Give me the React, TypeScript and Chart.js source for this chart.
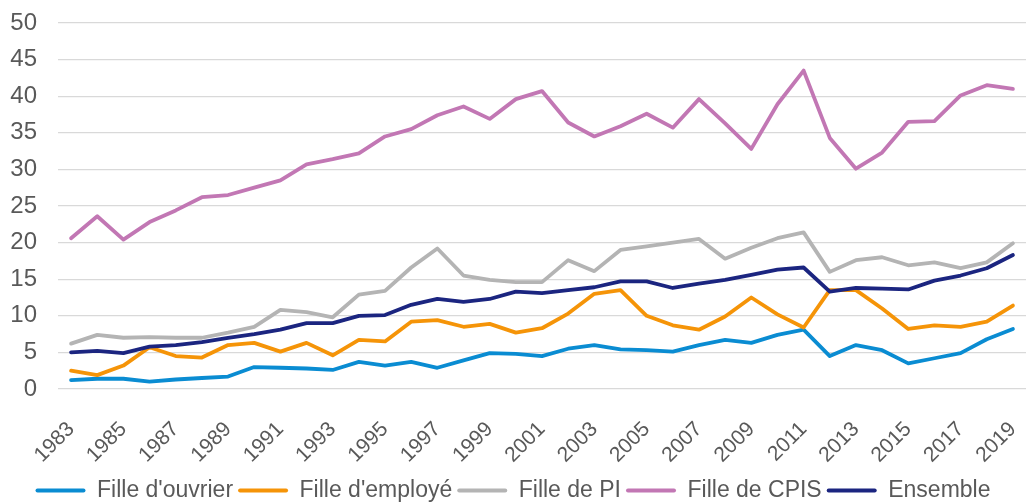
import React, { useEffect, useRef } from "react";
import { Chart, registerables } from "chart.js";

Chart.register(...registerables);

const years = [
  "1983","1984","1985","1986","1987","1988","1989","1990","1991","1992",
  "1993","1994","1995","1996","1997","1998","1999","2000","2001","2002",
  "2003","2004","2005","2006","2007","2008","2009","2010","2011","2012",
  "2013","2014","2015","2016","2017","2018","2019",
];

const filleOuvrier = [
  1.2, 1.4, 1.4, 1.0, 1.3, 1.5, 1.7, 3.0, 2.9, 2.8,
  2.6, 3.7, 3.2, 3.7, 2.9, 3.9, 4.9, 4.8, 4.5, 5.5,
  6.0, 5.4, 5.3, 5.1, 6.0, 6.7, 6.3, 7.4, 8.1, 4.5,
  6.0, 5.3, 3.5, 4.2, 4.9, 6.8, 8.2,
];

const filleEmploye = [
  2.5, 1.9, 3.2, 5.7, 4.5, 4.3, 6.0, 6.3, 5.1, 6.3,
  4.6, 6.7, 6.5, 9.2, 9.4, 8.5, 8.9, 7.7, 8.3, 10.3,
  13.0, 13.5, 10.0, 8.7, 8.1, 9.9, 12.5, 10.2, 8.4, 13.5,
  13.5, 11.0, 8.2, 8.7, 8.5, 9.2, 11.4,
];

const filleDePI = [
  6.2, 7.4, 7.0, 7.1, 7.0, 7.0, 7.7, 8.5, 10.8, 10.5,
  9.8, 12.9, 13.4, 16.6, 19.2, 15.5, 14.9, 14.6, 14.6, 17.6,
  16.1, 19.0, 19.5, 20.0, 20.5, 17.8, 19.3, 20.6, 21.4, 16.0,
  17.6, 18.0, 16.9, 17.3, 16.5, 17.3, 19.9,
];

const filleDeCPIS = [
  20.6, 23.6, 20.4, 22.8, 24.4, 26.2, 26.5, 27.5, 28.5, 30.7,
  31.4, 32.2, 34.5, 35.5, 37.4, 38.6, 36.9, 39.6, 40.7, 36.4,
  34.5, 35.9, 37.6, 35.7, 39.6, 36.3, 32.8, 38.9, 43.5, 34.3,
  30.1, 32.3, 36.5, 36.6, 40.1, 41.5, 41.0,
];

const ensemble = [
  5.0, 5.2, 4.9, 5.8, 6.0, 6.4, 7.0, 7.5, 8.1, 9.0,
  9.0, 10.0, 10.1, 11.5, 12.3, 11.9, 12.3, 13.3, 13.1, 13.5,
  13.9, 14.7, 14.7, 13.8, 14.4, 14.9, 15.6, 16.3, 16.6, 13.3,
  13.8, 13.7, 13.6, 14.8, 15.5, 16.5, 18.3,
];

const seriesNames = ["Fille d'ouvrier", "Fille d'employé", "Fille de PI", "Fille de CPIS", "Ensemble"];
const seriesColors = ["#0A8CD2", "#F59408", "#B4B4B4", "#C277B4", "#1B2580"];

const FONT = "'Liberation Sans', Arial, sans-serif";
const TEXT = "#595959";

export default function App() {
  const ref = useRef<HTMLCanvasElement | null>(null);

  useEffect(() => {
    if (!ref.current) return;
    const values = [filleOuvrier, filleEmploye, filleDePI, filleDeCPIS, ensemble];
    const chart = new Chart(ref.current, {
      type: "line",
      data: {
        labels: years,
        datasets: values.map((v, i) => ({
          label: seriesNames[i],
          data: v,
          borderColor: seriesColors[i],
          backgroundColor: seriesColors[i],
          borderWidth: 3.8,
          pointRadius: 0,
          pointHoverRadius: 0,
          tension: 0,
          borderJoinStyle: "round" as const,
          borderCapStyle: "round" as const,
          order: values.length - i,
        })),
      },
      options: {
        responsive: false,
        animation: false,
        layout: { padding: { top: 23, right: 0, bottom: 0, left: 0 } },
        plugins: {
          tooltip: { enabled: false },
          legend: {
            position: "bottom",
            labels: {
              color: TEXT,
              font: { family: FONT, size: 23 },
              boxWidth: 50,
              boxHeight: 4,
              padding: 5,
              sort: (a: any, b: any) => a.datasetIndex - b.datasetIndex,
              generateLabels: (c: any) =>
                Chart.defaults.plugins.legend.labels
                  .generateLabels(c)
                  .map((l: any) => ({ ...l, lineWidth: 0, borderRadius: 2 })),
            },
          },
        },
        scales: {
          x: {
            offset: true,
            grid: { display: false, drawTicks: false },
            border: { display: false },
            ticks: {
              autoSkip: false,
              minRotation: 45,
              maxRotation: 45,
              padding: 28,
              color: TEXT,
              font: { family: FONT, size: 21 },
              callback: (_v: any, idx: number) => (idx % 2 === 0 ? years[idx] : ""),
            },
            afterFit: (s: any) => {
              s.height = 85;
              s.paddingLeft = 0;
              s.paddingRight = 0;
            },
          },
          y: {
            min: 0,
            max: 50,
            grid: { color: "#D9D9D9", lineWidth: 1.3, drawTicks: false },
            border: { display: false },
            ticks: {
              stepSize: 5,
              padding: 21,
              color: TEXT,
              font: { family: FONT, size: 24 },
            },
            afterFit: (s: any) => {
              s.width = 58;
              s.paddingTop = 0;
              s.paddingBottom = 0;
            },
          },
        },
      },
    });
    return () => chart.destroy();
  }, []);

  return (
    <div style={{ position: "absolute", left: 0, top: 0, width: 1026, height: 503, overflow: "hidden", background: "#fff" }}>
      <canvas ref={ref} width={1026} height={512} style={{ display: "block" }} />
    </div>
  );
}
